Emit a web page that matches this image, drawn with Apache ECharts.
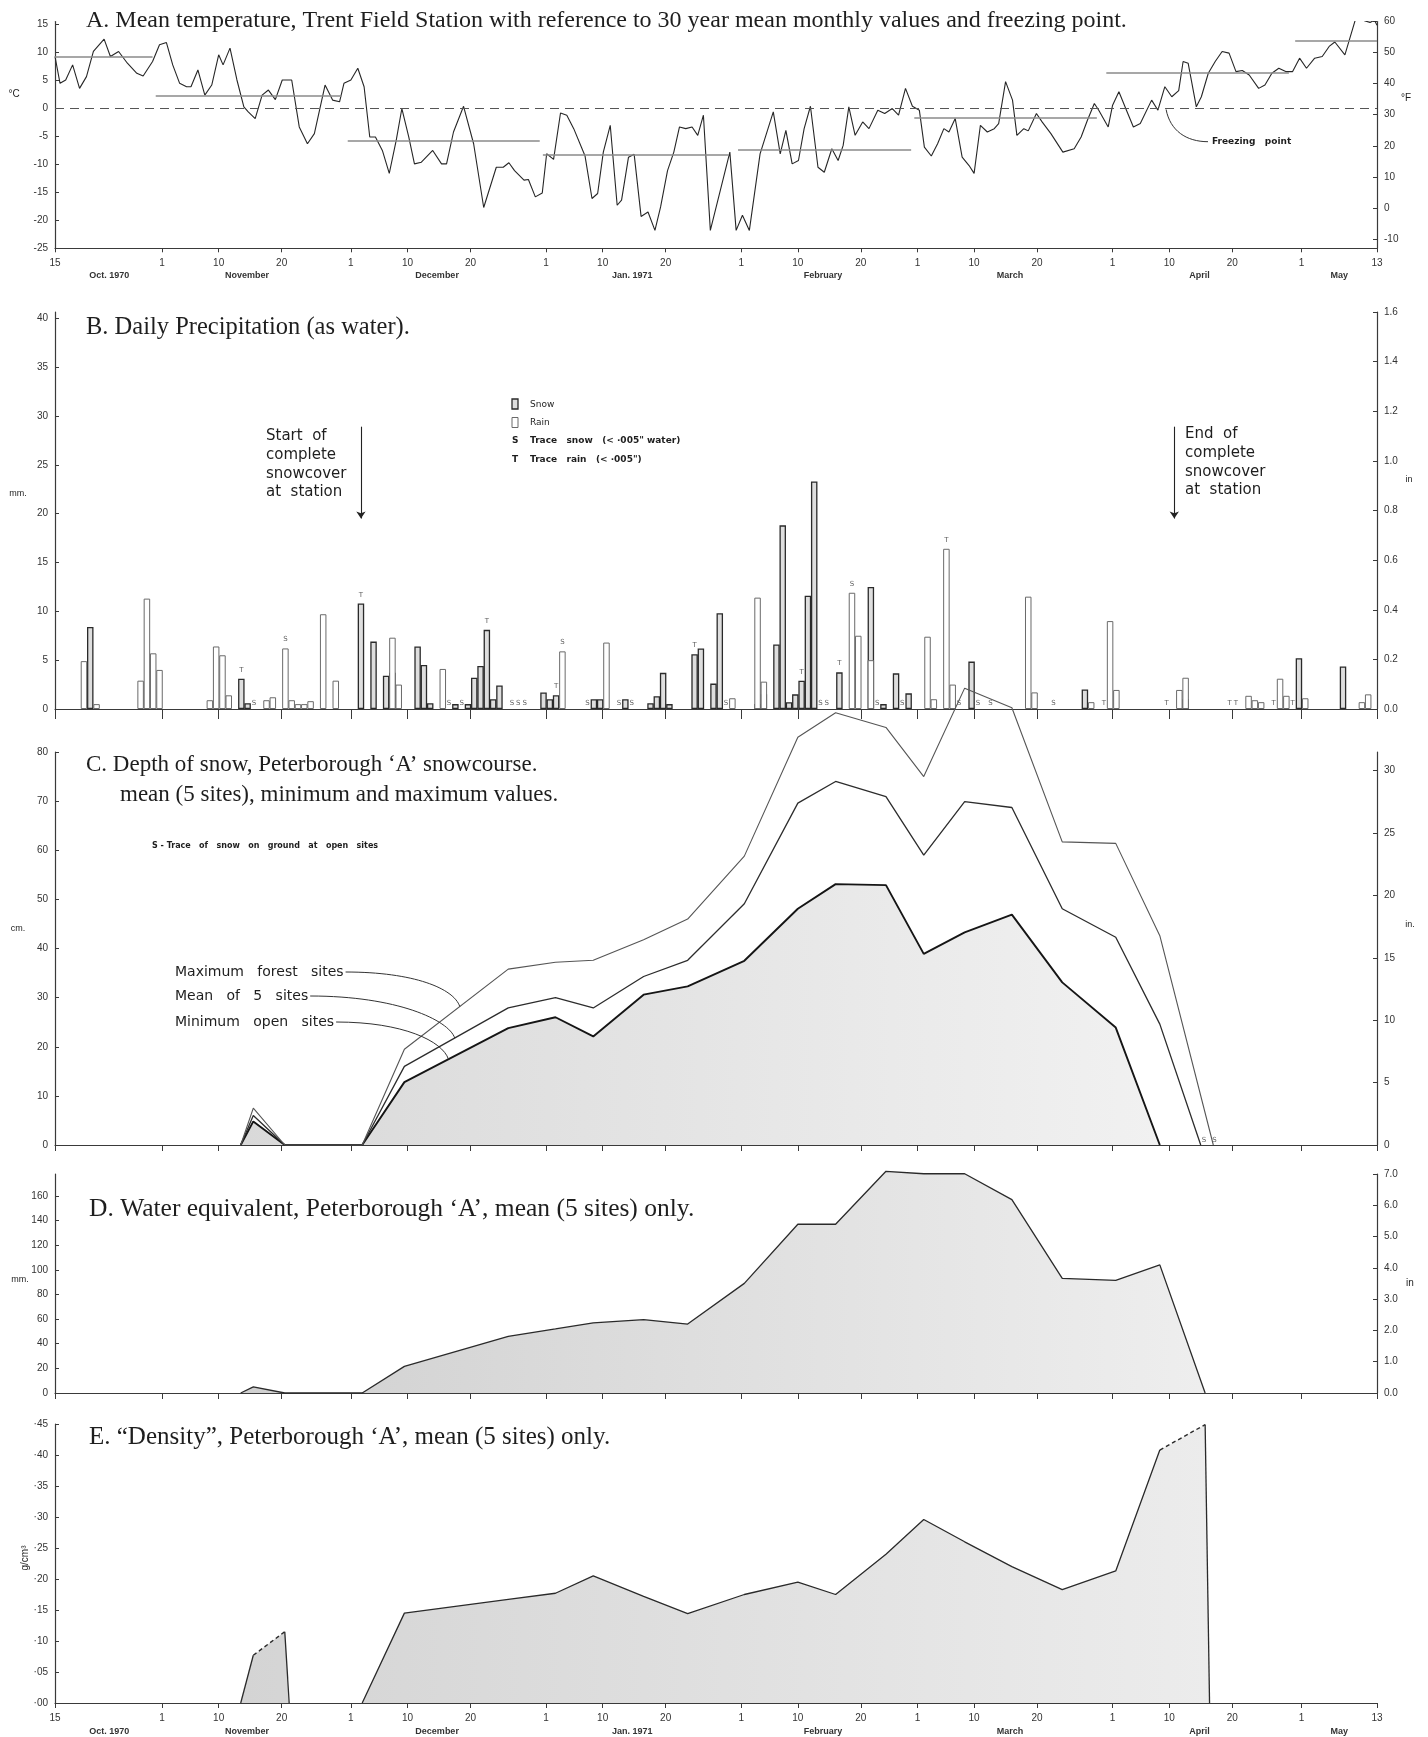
<!DOCTYPE html>
<html>
<head>
<meta charset="utf-8">
<title>Trent Field Station / Peterborough 'A' 1970-71</title>
<script src="https://cdn.jsdelivr.net/npm/echarts@6.0.0/dist/echarts.min.js"></script>
<style>
html,body{margin:0;padding:0;background:#fff;}
#chart{width:1428px;height:1737px;}
</style>
</head>
<body>
<div id="chart"></div>
<script>
// ================= DATA =================
// day index: 0 = 15 Oct 1970 ... 210 = 13 May 1971
const tickDays   = [0,17,26,36,47,56,66,78,87,97,109,118,128,137,146,156,168,177,187,198,210];
const tickLabels = ['15','1','10','20','1','10','20','1','10','20','1','10','20','1','10','20','1','10','20','1','13'];
const monthDays  = [8.6,30.5,60.7,91.7,122,151.7,181.8,204];
const monthNames = ['Oct. 1970','November','December','Jan. 1971','February','March','April','May'];

// --- A. daily mean temperature (°C)
const tempDay = [0,0.8,1.7,2.8,3.9,5.0,6.1,7.8,8.8,10.1,11.5,13.0,14.0,15.5,16.6,17.7,18.7,19.8,20.9,21.6,22.7,23.8,24.9,26.0,26.7,27.8,28.9,30.0,30.7,31.8,32.9,33.9,35.0,36.1,37.6,38.8,40.1,41.2,42.9,44.1,45.2,45.9,47.0,48.1,49.1,50.0,50.9,52.0,53.1,54.2,55.1,56.2,57.1,58.2,60.0,61.4,62.2,63.3,64.9,66.5,68.1,70.1,71.2,72.1,73.0,74.5,75.2,76.3,77.4,78.1,79.2,80.3,81.3,82.4,84.2,85.3,86.2,87.1,88.2,89.3,90.0,91.1,92.0,93.1,94.2,95.3,96.2,97.3,98.3,99.2,100.2,101.2,102.1,103.0,104.1,
  107.2,108.2,109.2,110.3,112.0,114.1,115.2,116.1,117.1,118.1,119.0,120.0,121.2,122.2,123.4,124.4,125.2,126.1,127.1,128.3,129.3,130.7,131.8,133.0,134.0,135.1,136.2,137.3,138.1,139.2,140.2,141.2,142.0,143.0,144.1,145.2,146.0,147.0,148.1,149.2,149.9,151.0,152.1,152.8,153.9,154.6,155.9,156.8,158.2,160.1,161.9,163.0,164.0,165.1,165.8,167.3,168.0,169.0,170.2,171.3,172.4,174.2,175.2,176.3,177.4,178.5,179.2,180.0,181.3,182.1,183.2,184.3,185.4,186.5,187.6,188.6,189.7,191.2,192.2,193.3,194.4,195.5,196.6,197.7,198.8,200.1,201.3,202.4,203.3,204.9,206.7,208.0,208.9,209.6,210.0];
const tempC = [9.3,4.5,5.1,7.8,3.6,5.7,10.2,12.4,9.3,10.2,8.1,6.3,5.8,8.4,11.4,11.8,7.8,4.5,3.9,3.9,6.9,2.4,4.2,9.6,7.8,10.8,5.1,0.3,-0.6,-1.8,2.4,3.3,1.6,5.1,5.1,-3.3,-6.3,-4.5,4.2,1.5,1.2,4.5,5.1,7.2,3.9,-5.1,-5.1,-7.5,-11.6,-5.7,0,-5.1,-9.9,-9.6,-7.5,-9.9,-9.9,-4.2,0.4,-6.3,-17.7,-10.5,-10.5,-9.7,-11.1,-12.8,-12.7,-15.8,-15.1,-8.1,-9.1,-0.8,-1.2,-3.6,-8.5,-16.1,-15.2,-7.8,-3.0,-17.3,-16.4,-8.7,-8.2,-19.3,-18.5,-21.8,-17.6,-11.1,-7.8,-3.3,-3.6,-3.3,-4.8,-1.2,-21.8,
  -7.8,-21.8,-19.1,-21.8,-8.1,-0.6,-8.1,-3.9,-9.9,-9.3,-3.6,0.4,-10.5,-11.4,-7.2,-9.3,-6.6,0.3,-4.8,-2.4,-3.6,-0.3,-0.9,0,-1.2,3.6,0.4,-0.3,-6.9,-8.5,-6.3,-3.6,-4.2,-1.8,-8.7,-10.2,-11.6,-3.0,-4.2,-3.6,-2.7,4.8,1.5,-4.8,-3.6,-4.0,-0.9,-2.4,-4.5,-7.8,-7.2,-5.1,-2.1,0.9,-0.3,-3.3,0.6,3.0,-0.3,-3.3,-2.7,1.5,-0.3,3.9,2.1,3.2,8.4,8.1,0.3,2.1,6.3,8.4,10.2,9.9,6.6,6.8,6.0,3.6,4.2,6.3,7.2,6.6,6.6,9.0,7.2,9.0,9.3,11.1,11.9,9.6,16.4,15.7,15.4,15.8,14.9];
const monthStartDay = [0,16,46.5,77.5,108.5,136.5,167,197];
const monthEndDay   = [15.5,45.5,77,107,136,165.5,196,210];
const monthMeanC    = [9.3,2.3,-5.8,-8.2,-7.4,-1.7,6.4,12.1];
const freezeLabelDay = 176.5;
const tempTicksC = [-25,-20,-15,-10,-5,0,5,10,15];
const tempTicksF = [-10,0,10,20,30,40,50,60];

// --- B. daily precipitation (mm water)
const precipDay = [4,5,6,13,14,15,16,24,25,26, 27,29,30,33,34,36,37,38,39,40, 42,44,48,50,52,53,54,57,58,59, 61,63,65,66,67,68,69,70,77,78, 79,80,85,86,87,90,94,95,96,97, 101,102,104,105,107,111,112,114,115,116, 117,118,119,120,124,126,127,129,131,133, 135,138,139,141,142,145,154,155,163,164, 167,168,178,179,189,190,191,194,195,197, 198,204,207,208];
const snowMM = [0,8.4,0,0,0,0,0,0,0,0, 0,3.1,0.6,0,0,0,0,0,0,0, 0,0,10.8,6.9,3.4,3.7,0,6.4,4.5,0.6, 0,0.5,0.5,3.2,4.4,8.1,1.0,2.4,1.7,1.0, 1.4,0,1.0,1.0,0,1.0,0.6,1.3,3.7,0.5, 5.6,6.2,2.6,9.8,0,0.5,1.5,6.6,18.8,0.7, 1.5,2.9,11.6,23.3,3.75,0,0,12.5,0.5,3.65, 1.6,0,0,0,0,4.85,0,0,2.0,0, 0,0,0,1.0,0,0,0,0,0,5.2, 0,4.35,0,0];
const rainMM = [4.9,0,0.5,2.9,11.3,5.7,4.0,0.9,6.4,5.5, 1.4,0,0,0.9,1.2,6.2,0.9,0.5,0.5,0.8, 9.7,2.9,0,0,0,7.3,2.5,0,0,0, 4.1,0,0,0,0,0,0,0,0,0, 0,5.9,0,0,6.8,0,0,0,0,0, 0,0,0,0,1.1,11.4,2.8,0,0,0, 0,0,0,0,0,11.9,7.5,5.0,0,0, 0,7.4,1.0,16.4,2.5,0,11.5,1.7,0,0.7, 9.0,1.95,1.95,3.2,1.35,0.9,0.7,3.1,1.35,0, 1.1,0,0.7,1.5];
const traceSDays = [31,62,64,72,73,74,84,89,91,106,121,122,130,134,143,146,148,158];
const traceTDays = [166,176,186,187,193,196];
const traceAboveT = [29,48,68,79,101,118,124,141];
const traceAboveS = [36,80,126];
const snowcoverArrowDays = [48.6,177.8];
const precipTicksMM = [0,5,10,15,20,25,30,35,40];
const precipTicksIn = [0,0.2,0.4,0.6,0.8,1.0,1.2,1.4,1.6];

// --- C. depth of snow (cm)
const cMaxDay  = [29.5,31.5,36.5,48.8,55.5,72,79.5,85.5,93.5,100.5,109.5,118,124,132,138,144.5,152,160,168.5,175.5,184];
const cMax     = [0,7.5,0,0,19.5,35.8,37.2,37.6,41.8,46,58.8,83,88,85,75,93,89,61.7,61.4,42.6,0];
const cMeanDay = [29.5,31.5,36.5,48.8,55.5,72,79.5,85.5,93.5,100.5,109.5,118,124,132,138,144.5,152,160,168.5,175.5,182];
const cMean    = [0,6,0,0,16,27.9,30,27.9,34.3,37.6,49.1,69.6,74,70.9,59,69.9,68.7,48.1,42.3,24.6,0];
const cMinDay  = [29.5,31.5,36.5,48.8,55.5,72,79.5,85.5,93.5,100.5,109.5,118,124,132,138,144.5,152,160,168.5,175.5];
const cMin     = [0,4.8,0,0,12.8,23.8,26,22.1,30.6,32.3,37.5,48.1,53.1,52.9,38.9,43.3,46.9,33.1,23.9,0];
const cTraceDays = [182.5,184.2];
const depthTicksCm = [0,10,20,30,40,50,60,70,80];
const depthTicksIn = [0,5,10,15,20,25,30];

// --- D. water equivalent (mm)
const dDay = [29.5,31.5,36.5,48.8,55.5,72,79.5,85.5,93.5,100.5,109.5,118,124,132,138,144.5,152,160,168.5,175.5,182.7];
const dVal = [0,5,0,0,21.6,46,52,57,59.5,56,89,137,137,180,178,178,157,93,91.4,104,0];
const weTicksMM = [0,20,40,60,80,100,120,140,160];
const weTicksIn = [0,1,2,3,4,5,6,7];

// --- E. density (g/cm3)
const eDay = [29.5,31.5,36.5,37.2,48.8,55.5,72,79.5,85.5,93.5,100.5,109.5,118,124,132,138,144.5,152,160,168.5,175.5,182.7,183.4];
const eVal = [0,0.077,0.115,0,0,0.145,0.167,0.177,0.205,0.172,0.144,0.175,0.195,0.175,0.24,0.296,0.26,0.22,0.183,0.213,0.408,0.449,0];
const eDashedSegments = [[1,2],[20,21]];
const eSolidSegments  = [[0,1],[2,3],[4,20],[21,22]];
const densityTicks = [0,0.05,0.10,0.15,0.20,0.25,0.30,0.35,0.40,0.45];

// ================= STYLE / LAYOUT =================
const SANS  = '"Liberation Sans", Arial, sans-serif';
const SERIF = '"Liberation Serif", "Times New Roman", serif';
const GEO   = '"DejaVu Sans", sans-serif';
const AX = '#3a3a3a';
const L = 55, W = 1322;

const grids = [
  {left:L, width:W, top:21.5, height:226.8},
  {left:L, width:W, top:312,  height:397},
  {left:L, width:W, top:752,  height:393},
  {left:L, width:W, top:1174, height:219},
  {left:L, width:W, top:1424, height:279}
].map(g => Object.assign({outerBoundsMode:'none', containLabel:false}, g));

function xAx(gi, showLabels, tickLen, inside) {
  return {
    type:'value', gridIndex:gi, position:'bottom', min:0, max:210,
    axisLine:{show:true, onZero:false, lineStyle:{color:AX, width:1.2}},
    axisTick:{show:true, inside:inside, length:tickLen, customValues:tickDays, lineStyle:{color:AX, width:1}},
    axisLabel:{show:showLabels, customValues:tickDays, formatter:v => tickLabels[tickDays.indexOf(v)],
      fontSize:10, fontFamily:SANS, color:'#333', margin:10},
    splitLine:{show:false}
  };
}
function monthAx(gi, offset) {
  return {
    type:'value', gridIndex:gi, position:'bottom', offset:offset, min:0, max:210,
    axisLine:{show:false}, axisTick:{show:false}, splitLine:{show:false},
    axisLabel:{show:true, customValues:monthDays, formatter:v => monthNames[monthDays.indexOf(v)],
      fontSize:9, fontWeight:'bold', fontFamily:SANS, color:'#333', margin:8}
  };
}
function yAx(gi, pos, min, max, ticks, fmt) {
  return {
    type:'value', gridIndex:gi, position:pos, min:min, max:max,
    axisLine:{show:true, onZero:false, lineStyle:{color:AX, width:1.2}},
    axisTick:{show:true, inside:true, length:4, customValues:ticks, lineStyle:{color:AX}},
    axisLabel:{show:true, customValues:ticks, formatter:fmt || (v => String(v)),
      fontSize:10, fontFamily:SANS, color:'#333', margin:7},
    splitLine:{show:false}
  };
}
function hGrad(c1, c2) {
  return {type:'linear', x:0, y:0, x2:1, y2:0, colorStops:[{offset:0,color:c1},{offset:1,color:c2}]};
}

const xAxes = [
  xAx(0, true, 4, false),   // 0 A
  monthAx(0, 15),           // 1 A months
  xAx(1, false, 10, false), // 2 B
  xAx(2, false, 6, false),  // 3 C
  xAx(3, false, 6, false),  // 4 D
  xAx(4, true, 5, false),   // 5 E
  monthAx(4, 16)            // 6 E months
];
const yAxes = [
  yAx(0,'left', -25, 15.56, tempTicksC),                                   // 0
  yAx(0,'right', -13, 60, tempTicksF),                                     // 1
  yAx(1,'left', 0, 40.64, precipTicksMM),                                  // 2
  yAx(1,'right', 0, 1.6, precipTicksIn, v => v.toFixed(1)),                // 3
  yAx(2,'left', 0, 80, depthTicksCm),                                      // 4
  yAx(2,'right', 0, 31.496, depthTicksIn),                                 // 5
  yAx(3,'left', 0, 177.8, weTicksMM),                                      // 6
  yAx(3,'right', 0, 7, weTicksIn, v => v.toFixed(1)),                      // 7
  yAx(4,'left', 0, 0.45, densityTicks, v => '·' + String(Math.round(v*100)).padStart(2,'0')) // 8
];

function pairs(days, vals) { return days.map((d,i) => [d, vals[i]]); }
function totalAt(d) { const i = precipDay.indexOf(d); return i < 0 ? 0 : snowMM[i] + rainMM[i]; }

const monthLines = monthMeanC.map((m,i) => [
  {coord:[monthStartDay[i], m], lineStyle:{color:'#8a8a8a', width:1.7, type:'solid'}},
  {coord:[monthEndDay[i], m]}
]);
monthLines.push([
  {coord:[0,0], lineStyle:{color:'#555', width:1.2, type:[9,6]}},
  {coord:[210,0]}
]);

const traceData = []
  .concat(traceSDays.map(d => ({value:[d+0.6, 0.6], name:'S'})))
  .concat(traceTDays.map(d => ({value:[d+0.6, 0.6], name:'T'})))
  .concat(traceAboveT.map(d => ({value:[d+0.6, totalAt(d)+0.9], name:'T'})))
  .concat(traceAboveS.map(d => ({value:[d+0.6, totalAt(d)+0.9], name:'S'})));

const series = [
  // 0 temperature
  {type:'line', xAxisIndex:0, yAxisIndex:0, data:pairs(tempDay, tempC), symbol:'none', z:3,
   lineStyle:{color:'#262626', width:1.1},
   markLine:{silent:true, symbol:'none', animation:false, label:{show:false}, data:monthLines}},
  // 1 snow bars
  {type:'bar', xAxisIndex:2, yAxisIndex:2, stack:'p', barWidth:6.5,
   data:precipDay.map((d,i) => [d+0.6, snowMM[i] || '-']),
   itemStyle:{color:'#dedede', borderColor:'#2a2a2a', borderWidth:1.3}},
  // 2 rain bars
  {type:'bar', xAxisIndex:2, yAxisIndex:2, stack:'p', barWidth:6.5,
   data:precipDay.map((d,i) => [d+0.6, rainMM[i] || '-']),
   itemStyle:{color:'#ffffff', borderColor:'#6a6a6a', borderWidth:1}},
  // 3 trace letters + snowcover arrows
  {type:'scatter', xAxisIndex:2, yAxisIndex:2, symbolSize:1, silent:true,
   itemStyle:{color:'rgba(0,0,0,0)'}, data:traceData,
   label:{show:true, position:'inside', formatter:'{b}', fontSize:7, fontFamily:GEO, color:'#333'},
   markLine:{silent:true, symbol:['none','arrow'], symbolSize:7, label:{show:false}, animation:false,
     lineStyle:{color:'#222', width:1.1, type:'solid'},
     data:snowcoverArrowDays.map(d => [{coord:[d, 28.9]}, {coord:[d, 19.5]}])}},
  // 4 C minimum (open sites) with shading
  {type:'line', xAxisIndex:3, yAxisIndex:4, data:pairs(cMinDay, cMin), symbol:'none', clip:false, z:2,
   lineStyle:{color:'#151515', width:1.9}, areaStyle:{color:hGrad('#d9d9d9','#f1f1f1'), opacity:1}},
  // 5 C mean
  {type:'line', xAxisIndex:3, yAxisIndex:4, data:pairs(cMeanDay, cMean), symbol:'none', clip:false, z:3,
   lineStyle:{color:'#2c2c2c', width:1.3}},
  // 6 C maximum (forest sites)
  {type:'line', xAxisIndex:3, yAxisIndex:4, data:pairs(cMaxDay, cMax), symbol:'none', clip:false, z:3,
   lineStyle:{color:'#555', width:1.1}},
  // 7 C traces
  {type:'scatter', xAxisIndex:3, yAxisIndex:4, symbolSize:1, silent:true, itemStyle:{color:'rgba(0,0,0,0)'},
   data:cTraceDays.map(d => ({value:[d, 0.9], name:'S'})),
   label:{show:true, position:'inside', formatter:'{b}', fontSize:7, fontFamily:GEO, color:'#333'}},
  // 8 D water equivalent
  {type:'line', xAxisIndex:4, yAxisIndex:6, data:pairs(dDay, dVal), symbol:'none', clip:false, z:3,
   lineStyle:{color:'#2a2a2a', width:1.3}, areaStyle:{color:hGrad('#d0d0d0','#eeeeee'), opacity:1}},
  // 9 E area
  {type:'line', xAxisIndex:5, yAxisIndex:8, data:pairs(eDay, eVal), symbol:'none', clip:false, z:2,
   lineStyle:{width:0, color:'rgba(0,0,0,0)'}, areaStyle:{color:hGrad('#d4d4d4','#ececec'), opacity:1}}
];
eSolidSegments.forEach(s => series.push({type:'line', xAxisIndex:5, yAxisIndex:8, symbol:'none', clip:false, z:3,
  data:pairs(eDay.slice(s[0], s[1]+1), eVal.slice(s[0], s[1]+1)), lineStyle:{color:'#2a2a2a', width:1.3}}));
eDashedSegments.forEach(s => series.push({type:'line', xAxisIndex:5, yAxisIndex:8, symbol:'none', clip:false, z:3,
  data:pairs(eDay.slice(s[0], s[1]+1), eVal.slice(s[0], s[1]+1)), lineStyle:{color:'#2a2a2a', width:1.4, type:[4,3]}}));

const chart = echarts.init(document.getElementById('chart'), null, {renderer:'canvas', width:1428, height:1737});
chart.setOption({
  animation:false,
  backgroundColor:'#ffffff',
  grid:grids, xAxis:xAxes, yAxis:yAxes, series:series
});

// ================= ANNOTATIONS =================
function T(x, y, text, size, family, opts) {
  return {type:'text', x:x, y:y, silent:true, z:10, style:Object.assign({
    text:text, fontSize:size, fontFamily:family, fill:'#1e1e1e', align:'left', verticalAlign:'middle'}, opts||{})};
}
function interp(days, vals, d) {
  for (let i = 0; i < days.length-1; i++) {
    if (d >= days[i] && d <= days[i+1]) { const t = (d-days[i])/(days[i+1]-days[i]); return vals[i] + t*(vals[i+1]-vals[i]); }
  }
  return 0;
}
const mctx = document.createElement('canvas').getContext('2d');
function textW(text, size, family) { mctx.font = size + 'px ' + family; return mctx.measureText(text).width; }

const g = [];
// titles
g.push(T(86, 21, 'A. Mean temperature, Trent Field Station with reference to 30 year mean monthly values and freezing point.', 24, SERIF));
g.push(T(86, 328, 'B. Daily Precipitation (as water).', 24.5, SERIF));
g.push(T(86, 765, 'C. Depth of snow, Peterborough \u2018A\u2019 snowcourse.', 23, SERIF));
g.push(T(120, 795, 'mean (5 sites), minimum and maximum values.', 23, SERIF));
g.push(T(89, 1209, 'D. Water equivalent, Peterborough \u2018A\u2019, mean (5 sites) only.', 25.5, SERIF));
g.push(T(89, 1437, 'E. \u201CDensity\u201D, Peterborough \u2018A\u2019, mean (5 sites) only.', 25, SERIF));
// axis unit labels
g.push(T(14, 94, '°C', 10, SANS, {align:'center'}));
g.push(T(1406, 98, '°F', 10, SANS, {align:'center'}));
g.push(T(18, 494, 'mm.', 9, SANS, {align:'center'}));
g.push(T(1409, 480, 'in', 9, SANS, {align:'center'}));
g.push(T(18, 929, 'cm.', 9, SANS, {align:'center'}));
g.push(T(1410, 925, 'in.', 9, SANS, {align:'center'}));
g.push(T(20, 1280, 'mm.', 9, SANS, {align:'center'}));
g.push(T(1410, 1283, 'in', 10, SANS, {align:'center'}));
g.push({type:'text', x:25, y:1558, rotation:Math.PI/2, silent:true, z:10,
  style:{text:'g/cm³', fontSize:10, fontFamily:SANS, fill:'#1e1e1e', align:'center', verticalAlign:'middle'}});

// freezing point label + leader
const fp = chart.convertToPixel({seriesIndex:0}, [freezeLabelDay, 0]);
const fpTextX = 1212;
g.push(T(fpTextX, 141.7, 'Freezing   point', 9, GEO, {fontWeight:'bold'}));
g.push({type:'bezierCurve', silent:true, z:10, shape:{x1:fp[0], y1:fp[1]+1, cpx1:fp[0]+4, cpy1:fp[1]+22, cpx2:fp[0]+20, cpy2:141.7, x2:fpTextX-4, y2:141.7},
  style:{stroke:'#333', lineWidth:1, fill:null}});

// B legend
g.push({type:'rect', silent:true, z:10, shape:{x:512, y:399, width:6, height:10}, style:{fill:'#dedede', stroke:'#2a2a2a', lineWidth:1.3}});
g.push({type:'rect', silent:true, z:10, shape:{x:512, y:417.5, width:6, height:10}, style:{fill:'#fff', stroke:'#6a6a6a', lineWidth:1}});
g.push(T(530, 405, 'Snow', 9, GEO));
g.push(T(530, 423, 'Rain', 9, GEO));
g.push(T(512, 441, 'S', 9, GEO, {fontWeight:'bold'}));
g.push(T(530, 441, 'Trace   snow   (< ·005" water)', 9, GEO, {fontWeight:'bold'}));
g.push(T(512, 460, 'T', 9, GEO, {fontWeight:'bold'}));
g.push(T(530, 460, 'Trace   rain   (< ·005")', 9, GEO, {fontWeight:'bold'}));
// snowcover notes
g.push(T(266, 427, 'Start  of\ncomplete\nsnowcover\nat  station', 15, GEO, {verticalAlign:'top', lineHeight:18.7}));
g.push(T(1185, 425, 'End  of\ncomplete\nsnowcover\nat  station', 15, GEO, {verticalAlign:'top', lineHeight:18.7}));

// C notes and leaders
g.push(T(152, 846, 'S - Trace   of   snow   on   ground   at   open   sites', 8, GEO, {fontWeight:'bold'}));
const cLab = [
  {text:'Maximum   forest   sites', y:972, s:6, days:cMaxDay, vals:cMax, d:64.3},
  {text:'Mean   of   5   sites', y:996, s:5, days:cMeanDay, vals:cMean, d:63.5},
  {text:'Minimum   open   sites', y:1022, s:4, days:cMinDay, vals:cMin, d:62.5}
];
cLab.forEach(c => {
  g.push(T(175, c.y, c.text, 14, GEO));
  const x0 = 175 + textW(c.text, 14, GEO) + 2;
  const p = chart.convertToPixel({seriesIndex:c.s}, [c.d, interp(c.days, c.vals, c.d)]);
  g.push({type:'bezierCurve', silent:true, z:10,
    shape:{x1:x0, y1:c.y, cpx1:x0 + (p[0]-x0)*0.6, cpy1:c.y, cpx2:p[0]-6, cpy2:p[1]-18, x2:p[0], y2:p[1]},
    style:{stroke:'#333', lineWidth:1, fill:null}});
});

chart.setOption({graphic:g});
</script>
</body>
</html>
